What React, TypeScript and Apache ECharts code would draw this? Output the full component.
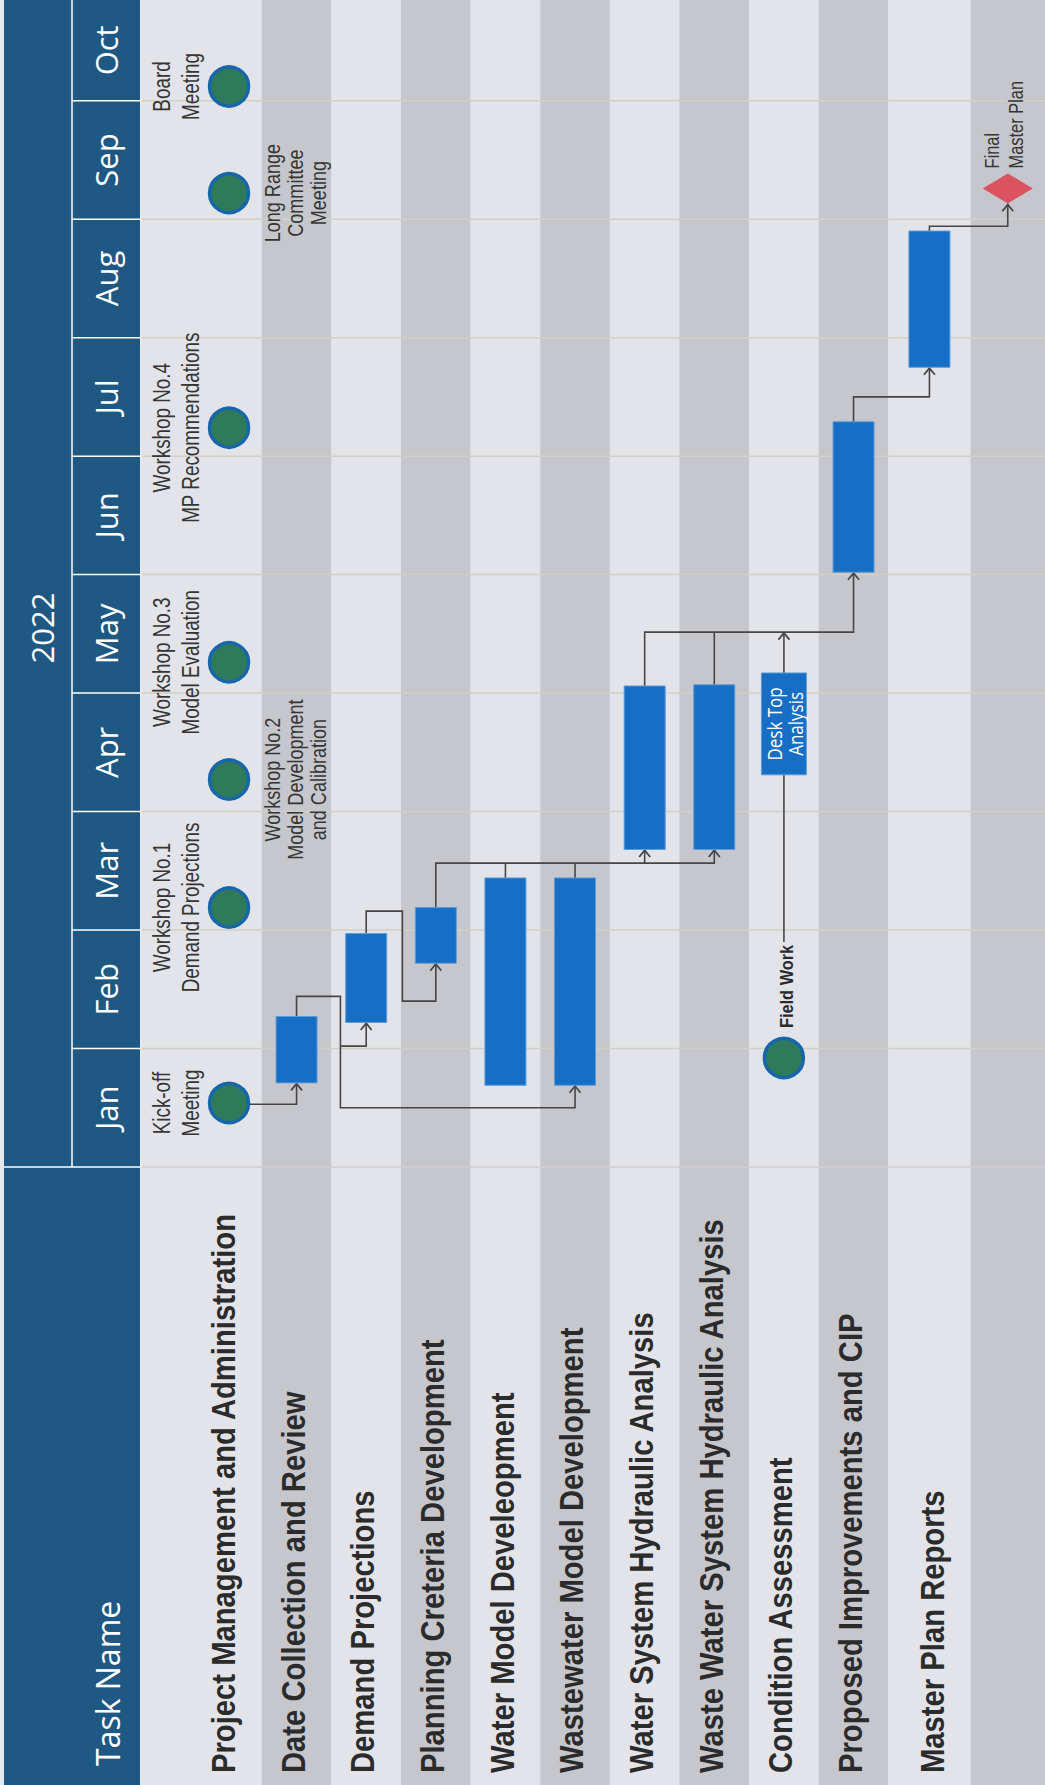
import React, { useEffect, useRef } from 'react';
import * as echarts from 'echarts';

// ---------------- data ----------------
const months = ['Jan', 'Feb', 'Mar', 'Apr', 'May', 'Jun', 'Jul', 'Aug', 'Sep', 'Oct'];
const yearLabel = '2022';
const headerTitle = 'Task Name';

const tasks = [
  'Project Management and Administration',
  'Date Collection and Review',
  'Demand Projections',
  'Planning Creteria Development',
  'Water Model Develeopment',
  'Wastewater Model Development',
  'Water System Hydraulic Analysis',
  'Waste Water System Hydraulic Analysis',
  'Condition Assessment',
  'Proposed Improvements and CIP',
  'Master Plan Reports',
  '',
];

// bars (time in months counted from 1 Jan 2022)
const barLane = [1, 2, 3, 4, 5, 6, 7, 8, 9, 10];
const barStart = [0.71, 1.22, 1.72, 0.69, 0.69, 2.68, 2.68, 3.31, 5.02, 6.75];
const barEnd = [1.27, 1.97, 2.19, 2.44, 2.44, 4.06, 4.07, 4.17, 6.29, 7.9];
const barText = ['', '', '', '', '', '', '', 'Desk Top\nAnalysis', '', ''];

// milestones (circles)
const milestoneLane = [0, 0, 0, 0, 0, 0, 0, 8];
const milestoneTime = [0.54, 2.19, 3.27, 4.26, 6.24, 8.22, 9.12, 0.92];
const milestoneText = [
  'Kick-off\nMeeting',
  'Workshop No.1\nDemand Projections',
  'Workshop No.2\nModel Development\nand Calibration',
  'Workshop No.3\nModel Evaluation',
  'Workshop No.4\nMP Recommendations',
  'Long Range\nCommittee\nMeeting',
  'Board\nMeeting',
  'Field Work',
];
const milestoneSide = ['left', 'left', 'right', 'left', 'left', 'right', 'left', 'above'];

// final deliverable (diamond)
const finalLane = 11;
const finalTime = 8.26;
const finalText = 'Final\nMaster Plan';

// dependency links: waypoints [lane position, month]
const links = [
  [[0.53, 0.53], [1.5, 0.53], [1.5, 0.71]],
  [[1.5, 1.27], [1.5, 1.44], [2.13, 1.44], [2.13, 0.5], [5.5, 0.5], [5.5, 0.69]],
  [[2.13, 1.02], [2.5, 1.02], [2.5, 1.22]],
  [[2.5, 1.97], [2.5, 2.16], [3.02, 2.16], [3.02, 1.4], [3.5, 1.4], [3.5, 1.72]],
  [[3.5, 2.19], [3.5, 2.565], [7.5, 2.565], [7.5, 2.68]],
  [[6.5, 2.565], [6.5, 2.68]],
  [[4.5, 2.44], [4.5, 2.565]],
  [[5.5, 2.44], [5.5, 2.565]],
  [[6.5, 4.06], [6.5, 4.515], [9.5, 4.515], [9.5, 5.02]],
  [[7.5, 4.07], [7.5, 4.515]],
  [[8.5, 4.17], [8.5, 4.515]],
  [[9.5, 6.29], [9.5, 6.5], [10.59, 6.5], [10.59, 6.75]],
  [[10.59, 7.9], [10.59, 7.94], [11.715, 7.94], [11.715, 8.13]],
  [[8.5, 1.9], [8.5, 3.31]],
];
const linkArrow = [true, true, true, true, true, true, false, false, true, false, true, true, true, false];

// ---------------- layout / style ----------------
const W = 1045;
const H = 1785;
const laneSpans = [1.72, 1, 1, 1, 1, 1, 1, 1, 1, 1, 1.18, 1.07];
const X_MIN = -0.72;
const laneEdges: number[] = [X_MIN];
laneSpans.forEach((s, i) => laneEdges.push(+(laneEdges[i] + s).toFixed(4)));
const X_MAX = laneEdges[laneEdges.length - 1];
const Y_MAX = 9.85;
const laneCenter = (i: number) => (laneEdges[i] + laneEdges[i + 1]) / 2;
const FIRST_LANE_MS_X = 0.53;

const LIGHT = '#e2e4e9';
const DARK = '#c6c7cc';
const HEADER = '#1f5882';
const GRIDLINE = '#d2cfc5';
const BAR = '#176fc5';
const GREEN = '#2e7a5b';
const RING = '#1866aa';
const DIAMOND = '#db5261';
const LINK = '#464646';
const NARROW = "'Liberation Sans', Arial, sans-serif";
const HEAD_FONT = "'Open Sans', 'Noto Sans', sans-serif";
const ROT = Math.PI / 2;

function arrowHead(x: number, y: number) {
  return {
    type: 'polyline',
    shape: { points: [[x - 5.5, y + 7.5], [x, y + 0.8], [x + 5.5, y + 7.5]] },
    style: { stroke: LINK, lineWidth: 1.8, fill: 'none' },
  };
}

function buildOption() {
  return {
    animation: false,
    backgroundColor: '#e7e8ec',
    grid: { left: 142, top: 0, width: W - 142, height: 1167 },
    xAxis: { type: 'value', min: X_MIN, max: X_MAX, show: false },
    yAxis: { type: 'value', min: 0, max: Y_MAX, show: false },
    series: [
      // header column
      {
        type: 'custom', z: 1, silent: true, clip: false,
        data: [[X_MIN, 0]],
        renderItem: (params: any, api: any) => {
          const h = api.getHeight();
          const yBase = api.coord([X_MIN, 0])[1];
          return {
            type: 'group',
            children: [
              { type: 'rect', shape: { x: 4, y: 0, width: 136, height: h }, style: { fill: HEADER } },
              { type: 'line', shape: { x1: 72, y1: 0, x2: 72, y2: yBase }, style: { stroke: '#ffffff', lineWidth: 1.5 } },
              { type: 'line', shape: { x1: 4, y1: yBase, x2: 140, y2: yBase }, style: { stroke: '#ffffff', lineWidth: 1.5 } },
              {
                type: 'text', x: 42, y: 628, rotation: ROT,
                style: { text: yearLabel, fill: '#ffffff', fontSize: 31, fontFamily: HEAD_FONT, align: 'center', verticalAlign: 'middle' },
              },
              {
                type: 'text', x: 107, y: h - 19, rotation: ROT,
                style: { text: headerTitle, fill: '#ffffff', fontSize: 32, fontFamily: HEAD_FONT, align: 'left', verticalAlign: 'middle' },
              },
            ],
          };
        },
      },
      // month cells in header
      {
        type: 'custom', z: 3, silent: true, clip: false,
        data: months.map((m, i) => [X_MIN, i + 0.5]),
        renderItem: (params: any, api: any) => {
          const i = params.dataIndex;
          const top = api.coord([X_MIN, i + 1])[1];
          const mid = api.coord([X_MIN, Math.min(i + 0.5, (i + Y_MAX) / 2)])[1];
          const children: any[] = [
            {
              type: 'text', x: 106, y: mid, rotation: ROT,
              style: { text: months[i], fill: '#ffffff', fontSize: 31, fontFamily: HEAD_FONT, align: 'center', verticalAlign: 'middle' },
            },
          ];
          if (i + 1 < Y_MAX) {
            children.push({ type: 'line', shape: { x1: 72, y1: top, x2: 140, y2: top }, style: { stroke: '#ffffff', lineWidth: 1.5 } });
          }
          return { type: 'group', children };
        },
      },
      // lane bands
      {
        type: 'custom', z: 1, silent: true, clip: false,
        data: tasks.map((t, i) => [laneEdges[i], 0]),
        renderItem: (params: any, api: any) => {
          const i = params.dataIndex;
          const x0 = api.coord([laneEdges[i], 0])[0];
          const x1 = api.coord([laneEdges[i + 1], 0])[0];
          return {
            type: 'rect',
            shape: { x: x0, y: 0, width: x1 - x0, height: api.getHeight() },
            style: { fill: i % 2 ? DARK : LIGHT },
          };
        },
      },
      // month grid lines
      {
        type: 'custom', z: 2, silent: true, clip: false,
        data: months.map((m, i) => [X_MIN, i]),
        renderItem: (params: any, api: any) => {
          const i = params.dataIndex;
          const p0 = api.coord([X_MIN, i]);
          const p1 = api.coord([X_MAX, i]);
          return { type: 'line', shape: { x1: p0[0], y1: p0[1], x2: p1[0], y2: p1[1] }, style: { stroke: GRIDLINE, lineWidth: 1.5 } };
        },
      },
      // dependency links
      {
        type: 'custom', z: 3, silent: true, clip: false,
        data: links.map((l) => l[0]),
        renderItem: (params: any, api: any) => {
          const i = params.dataIndex;
          const pts = links[i].map((p) => api.coord(p));
          const children: any[] = [
            { type: 'polyline', shape: { points: pts }, style: { stroke: LINK, lineWidth: 1.6, fill: 'none' } },
          ];
          if (linkArrow[i]) {
            const tip = pts[pts.length - 1];
            children.push(arrowHead(tip[0], tip[1]));
          }
          return { type: 'group', children };
        },
      },
      // task bars
      {
        type: 'custom', z: 4, silent: true, clip: false,
        data: barLane.map((l, i) => [laneCenter(l), barStart[i], barEnd[i]]),
        renderItem: (params: any, api: any) => {
          const i = params.dataIndex;
          const s = api.coord([api.value(0), api.value(1)]);
          const e = api.coord([api.value(0), api.value(2)]);
          const w = barText[i] ? 45 : 41;
          const children: any[] = [
            {
              type: 'rect',
              shape: { x: s[0] - w / 2, y: e[1], width: w, height: s[1] - e[1] },
              style: { fill: BAR, stroke: '#5d9bd8', lineWidth: 1 },
            },
          ];
          if (barText[i]) {
            children.push({
              type: 'text', x: s[0], y: (s[1] + e[1]) / 2, rotation: ROT, scaleX: 0.85,
              style: { text: barText[i], fill: '#ffffff', fontSize: 20, lineHeight: 21, fontFamily: HEAD_FONT, align: 'center', verticalAlign: 'middle' },
            });
          }
          return { type: 'group', children };
        },
      },
      // milestones
      {
        type: 'custom', z: 5, silent: true, clip: false,
        data: milestoneLane.map((l, i) => [l === 0 ? FIRST_LANE_MS_X : laneCenter(l), milestoneTime[i]]),
        renderItem: (params: any, api: any) => {
          const i = params.dataIndex;
          const c = api.coord([api.value(0), api.value(1)]);
          const side = milestoneSide[i];
          let label: any;
          if (side === 'left') {
            label = {
              type: 'text', x: c[0] - 53, y: c[1], rotation: ROT, scaleX: 0.82,
              style: { text: milestoneText[i], fill: '#353535', fontSize: 23, lineHeight: 29, fontFamily: NARROW, align: 'center', verticalAlign: 'middle' },
            };
          } else if (side === 'right') {
            label = {
              type: 'text', x: c[0] + 66, y: c[1], rotation: ROT, scaleX: 0.82,
              style: { text: milestoneText[i], fill: '#353535', fontSize: 22, lineHeight: 23, fontFamily: NARROW, align: 'center', verticalAlign: 'middle' },
            };
          } else {
            label = {
              type: 'text', x: c[0] + 3, y: c[1] - 30, rotation: ROT, scaleX: 0.86,
              style: { text: milestoneText[i], fill: '#2a2a2a', fontSize: 19, fontWeight: 'bold', fontFamily: NARROW, align: 'left', verticalAlign: 'middle' },
            };
          }
          return {
            type: 'group',
            children: [
              { type: 'circle', shape: { cx: c[0], cy: c[1], r: 19.5 }, style: { fill: GREEN, stroke: RING, lineWidth: 3.5 } },
              label,
            ],
          };
        },
      },
      // final deliverable diamond
      {
        type: 'custom', z: 5, silent: true, clip: false,
        data: [[laneCenter(finalLane), finalTime]],
        renderItem: (params: any, api: any) => {
          const c = api.coord([api.value(0), api.value(1)]);
          return {
            type: 'group',
            children: [
              {
                type: 'polygon',
                shape: { points: [[c[0] - 25, c[1]], [c[0], c[1] - 15], [c[0] + 25, c[1]], [c[0], c[1] + 15]] },
                style: { fill: DIAMOND },
              },
              {
                type: 'text', x: c[0] - 4, y: c[1] - 20, rotation: ROT, scaleX: 0.82,
                style: { text: finalText, fill: '#353535', fontSize: 20, lineHeight: 24, fontFamily: NARROW, align: 'left', verticalAlign: 'middle' },
              },
            ],
          };
        },
      },
      // task names
      {
        type: 'custom', z: 6, silent: true, clip: false,
        data: tasks.map((t, i) => [laneEdges[i + 1] - 0.55, 0]),
        renderItem: (params: any, api: any) => {
          const i = params.dataIndex;
          if (!tasks[i]) return { type: 'group', children: [] };
          const x = api.coord([api.value(0), 0])[0];
          return {
            type: 'text', x, y: api.getHeight() - 12, rotation: ROT, scaleX: 0.86,
            style: { text: tasks[i], fill: '#2b2b2b', fontSize: 34, fontWeight: 'bold', fontFamily: NARROW, align: 'left', verticalAlign: 'middle' },
          };
        },
      },
    ],
  };
}

export default function App() {
  const ref = useRef<HTMLDivElement>(null);
  useEffect(() => {
    document.body.style.margin = '0';
    const chart = echarts.init(ref.current as HTMLDivElement, undefined, { renderer: 'svg', width: W, height: H });
    chart.setOption(buildOption() as any);
    return () => chart.dispose();
  }, []);
  return <div ref={ref} style={{ width: W, height: H }} />;
}
